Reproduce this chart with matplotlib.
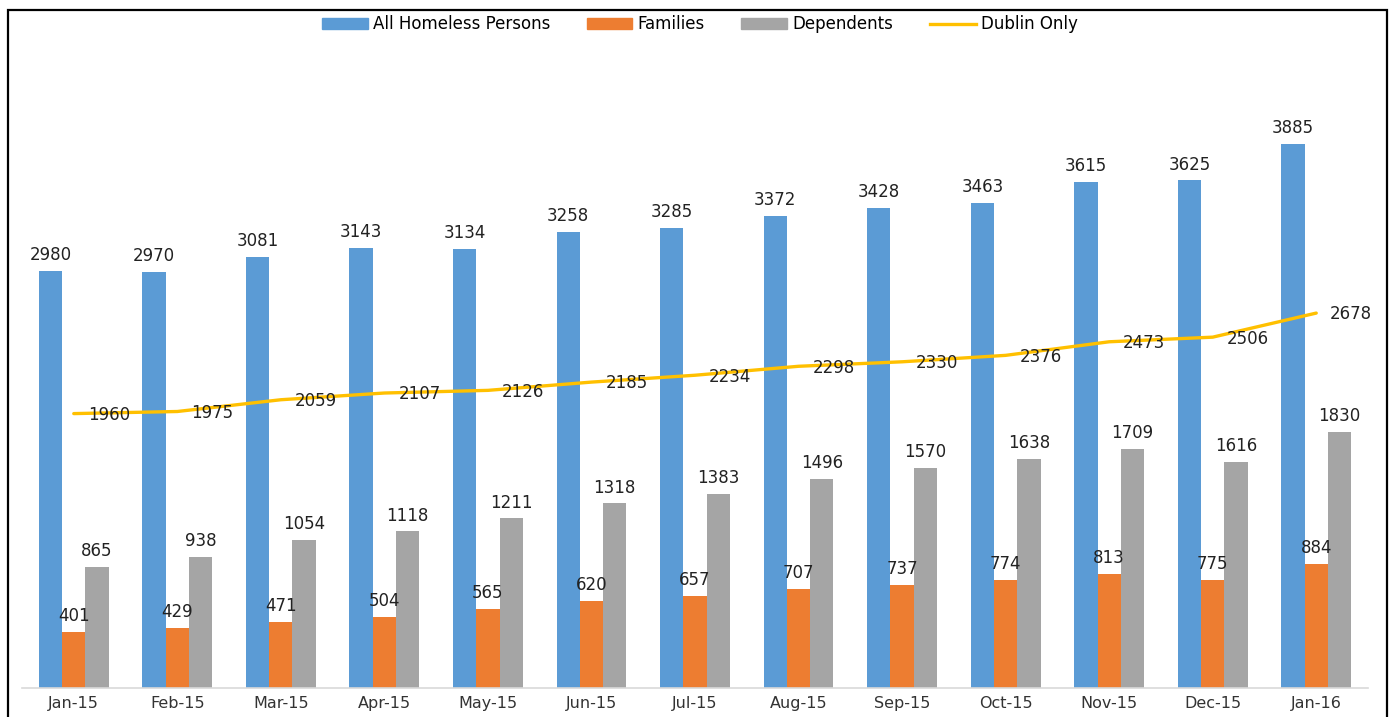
import numpy as np
import matplotlib
matplotlib.use("Agg")
import matplotlib.pyplot as plt
from matplotlib.patches import Rectangle, Patch
from matplotlib.lines import Line2D

# Datos
meses = ['Jan-15', 'Feb-15', 'Mar-15', 'Apr-15', 'May-15', 'Jun-15', 'Jul-15',
         'Aug-15', 'Sep-15', 'Oct-15', 'Nov-15', 'Dec-15', 'Jan-16']
todos = [2980, 2970, 3081, 3143, 3134, 3258, 3285, 3372, 3428, 3463, 3615, 3625, 3885]
familias = [401, 429, 471, 504, 565, 620, 657, 707, 737, 774, 813, 775, 884]
dependientes = [865, 938, 1054, 1118, 1211, 1318, 1383, 1496, 1570, 1638, 1709, 1616, 1830]
dublin = [1960, 1975, 2059, 2107, 2126, 2185, 2234, 2298, 2330, 2376, 2473, 2506, 2678]

azul = '#5B9BD5'
naranja = '#ED7D31'
gris = '#A5A5A5'
amarillo = '#FFC000'
fs = 12

fig = plt.figure(figsize=(13.95, 7.17), dpi=100)
ax = fig.add_axes([22 / 1395, 29 / 717, (1368 - 22) / 1395, (688 - 44) / 717])

x = np.arange(len(meses))
w = 0.225
b1 = ax.bar(x - w, todos, w, color=azul)
b2 = ax.bar(x, familias, w, color=naranja)
b3 = ax.bar(x + w, dependientes, w, color=gris)

for barras in (b1, b2, b3):
    for b in barras:
        ax.annotate(f'{int(b.get_height())}', (b.get_x() + b.get_width() / 2, b.get_height()),
                    xytext=(0, 5), textcoords='offset points', ha='center', va='bottom',
                    fontsize=fs, color='#222222')

ax.plot(x, dublin, color=amarillo, lw=2.4, solid_capstyle='round')
for xi, v in zip(x, dublin):
    ax.annotate(f'{v}', (xi, v), xytext=(10, -1), textcoords='offset points',
                ha='left', va='center', fontsize=fs, color='#222222')

ax.set_xlim(-0.5, 12.5)
ax.set_ylim(0, 4600)
ax.set_xticks(x)
ax.set_xticklabels(meses, fontsize=fs - 0.5, color='#333333')
ax.tick_params(axis='x', length=0, pad=6)
ax.set_yticks([])
for s in ['top', 'right', 'left']:
    ax.spines[s].set_visible(False)
ax.spines['bottom'].set_color('#D9D9D9')
ax.spines['bottom'].set_linewidth(1.2)

# Leyenda
handles = [Patch(color=azul), Patch(color=naranja), Patch(color=gris),
           Line2D([0], [0], color=amarillo, lw=2.4)]
labels = ['All Homeless Persons', 'Families', 'Dependents', 'Dublin Only']
fig.legend(handles, labels, loc='center', bbox_to_anchor=(0.5015, 0.966), ncol=4,
           frameon=False, fontsize=fs, handlelength=2.75, handleheight=0.65,
           handletextpad=0.3, columnspacing=2.2)

# Borde
fig.add_artist(Rectangle((8 / 1395, -0.05), (1387 - 8) / 1395, 1.05 - 10 / 717,
                         transform=fig.transFigure, fill=False, edgecolor='black',
                         lw=1.6, clip_on=False))

fig.savefig('out.png', dpi=100)
